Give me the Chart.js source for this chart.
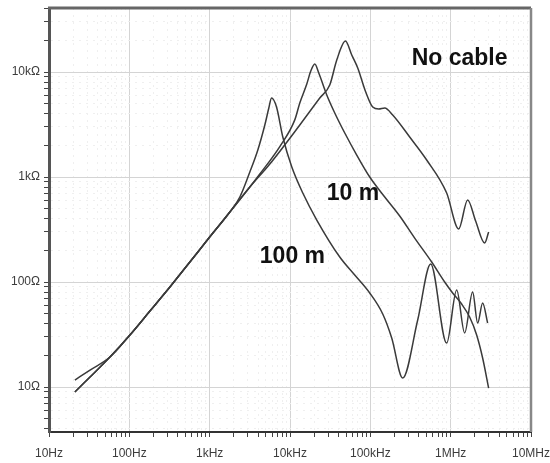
<!DOCTYPE html>
<html>
<head>
<meta charset="utf-8">
<script src="https://cdn.jsdelivr.net/npm/chart.js@4.4.0/dist/chart.umd.min.js"></script>
<style>
  html, body { margin: 0; padding: 0; background: #fff; }
  #wrap { width: 550px; height: 463px; }
</style>
</head>
<body>
<div id="wrap"><canvas id="impedanceChart" width="550" height="463"></canvas></div>
<script>
// axis ticks
const freqDecades = [10, 100, 1e3, 1e4, 1e5, 1e6, 1e7];
const freqLabels = ['10Hz', '100Hz', '1kHz', '10kHz', '100kHz', '1MHz', '10MHz'];
const ohmDecades = [10, 100, 1000, 10000];
const ohmLabels = ['10Ω', '100Ω', '1kΩ', '10kΩ'];
const ohmMin = 3.73;
const ohmMax = 40700;

// no cable
const noCableFreq = [21, 32.4, 57.4, 101.7, 180.4, 320, 567, 1000, 1783, 3162, 5608, 13240, 23480, 31260, 38200, 49000,
  58710, 69700, 87660, 107100, 127200, 151100, 189900, 309000, 503000, 891700, 1258000, 1627000, 2046000, 2648000, 2970000];
const noCableZ = [8.96, 12.45, 19.3, 31.3, 52.9, 89.6, 155, 268, 464, 803, 1330, 3128, 5655, 7518, 13010, 19740,
  14520, 10920, 6450, 4642, 4442, 4541, 3895, 2404, 1452, 704, 320, 604, 381, 235, 299];

// 10 m cable
const tenMFreq = [21, 32.4, 57.4, 101.7, 180.4, 320, 567, 1000, 1783, 3162, 4210, 7467, 11470, 13240, 16180, 18140, 20350,
  22820, 28690, 36070, 48050, 67720, 98290, 151100, 232100, 356600, 580300, 842100, 1059000, 1370000, 1723000, 2106000, 2500000, 2970000];
const tenMZ = [8.96, 12.45, 19.3, 31.3, 52.9, 89.6, 155, 268, 464, 803, 1068, 1950, 3500, 5069, 7685, 10220, 11920,
  9784, 6040, 4069, 2624, 1620, 1000, 645, 425, 262, 155, 100, 78.6, 61.7, 46.4, 31.3, 18.9, 9.78];

// 100 m cable
const hundredMFreq = [21, 32.4, 57.4, 101.7, 180.4, 320, 567, 1000, 1783, 2375, 3162, 3977, 4860, 5450, 5888, 6795, 8137,
  10530, 14430, 21540, 41630, 63970, 98290, 142700, 184600, 252900, 388700, 563900, 891700, 1188000, 1493000, 1877000, 2167000, 2500000, 2886000];
const hundredMZ = [11.66, 14.5, 19.3, 31.3, 52.9, 89.6, 155, 268, 464, 645, 1116, 1808, 3128, 4541, 5655, 4642, 2404,
  1245, 704, 389.5, 173, 116.6, 78.6, 49.6, 29.3, 12.18, 43.5, 148.4, 26.2, 83.9, 32.7, 80.3, 40.7, 63.1, 40.7];

// curve labels, anchored in data space (left edge, baseline)
const curveLabels = [
  { text: 'No cable', f: 327000, z: 11660 },
  { text: '10 m', f: 28700, z: 604 },
  { text: '100 m', f: 4210, z: 152 }
];

const toPoints = (fs, zs) => fs.map((f, i) => ({ x: f, y: zs[i] }));
const isDecade = (v) => Math.abs(Math.log10(v) - Math.round(Math.log10(v))) < 1e-9;

const logTicks = (lo, hi) => {
  const out = [];
  for (let d = Math.pow(10, Math.floor(Math.log10(lo))); d <= hi; d *= 10) {
    for (let m = 1; m <= 9; m++) {
      const v = Math.round(m * d * 1e6) / 1e6;
      if (v >= lo && v <= hi) out.push({ value: v, major: isDecade(v) });
    }
  }
  return out;
};

const gridColor = (ctx) => (ctx.tick && !isDecade(ctx.tick.value)) ? '#efefef' : '#d4d4d4';
const gridDash = (ctx) => (ctx.tick && !isDecade(ctx.tick.value)) ? [2, 5] : [];
const tickFont = { family: '"Liberation Sans", Arial, sans-serif', size: 12 };

const framePlugin = {
  id: 'frame',
  afterDraw(chart) {
    const { ctx, chartArea: a } = chart;
    ctx.save();
    ctx.strokeStyle = '#666';
    ctx.lineWidth = 3;
    ctx.beginPath();
    ctx.moveTo(a.left - 1, a.top);
    ctx.lineTo(a.right, a.top);
    ctx.stroke();
    ctx.strokeStyle = '#888';
    ctx.lineWidth = 2.5;
    ctx.beginPath();
    ctx.moveTo(a.right, a.top);
    ctx.lineTo(a.right, a.bottom);
    ctx.stroke();
    ctx.restore();
  }
};

const labelPlugin = {
  id: 'curveLabels',
  afterDatasetsDraw(chart) {
    const { ctx, scales } = chart;
    ctx.save();
    ctx.fillStyle = '#111';
    ctx.font = 'bold 23px "Liberation Sans", Arial, sans-serif';
    ctx.textBaseline = 'alphabetic';
    ctx.textAlign = 'left';
    curveLabels.forEach((l) => {
      ctx.fillText(l.text, scales.x.getPixelForValue(l.f), scales.y.getPixelForValue(l.z));
    });
    ctx.restore();
  }
};

const initImpedanceChart = () => {
  const canvas = document.getElementById('impedanceChart');
  const ctx = canvas.getContext('2d');
  new Chart(ctx, {
    type: 'line',
    data: {
      datasets: [
        { label: 'No cable', data: toPoints(noCableFreq, noCableZ) },
        { label: '10 m', data: toPoints(tenMFreq, tenMZ) },
        { label: '100 m', data: toPoints(hundredMFreq, hundredMZ) }
      ]
    },
    options: {
      responsive: false,
      animation: false,
      layout: { padding: { top: 8, right: 19, left: 0, bottom: 0 } },
      elements: {
        point: { radius: 0 },
        line: { borderColor: '#3a3a3a', borderWidth: 1.5, cubicInterpolationMode: 'monotone', fill: false }
      },
      plugins: { legend: { display: false }, tooltip: { enabled: false } },
      scales: {
        x: {
          type: 'logarithmic',
          min: 10,
          max: 1e7,
          afterBuildTicks: (scale) => { scale.ticks = logTicks(10, 1e7); },
          afterFit: (scale) => {
            scale.height = 31;
            scale.paddingLeft = 0;
            scale.paddingRight = 0;
          },
          ticks: {
            autoSkip: false,
            maxRotation: 0,
            padding: 9,
            color: '#3c3c3c',
            font: tickFont,
            callback: (v) => {
              const i = freqDecades.indexOf(v);
              return i >= 0 ? freqLabels[i] : '';
            }
          },
          grid: { color: gridColor, tickColor: '#444', tickLength: 5 },
          border: { display: true, color: '#333', width: 2, dash: gridDash }
        },
        y: {
          type: 'logarithmic',
          min: ohmMin,
          max: ohmMax,
          afterBuildTicks: (scale) => { scale.ticks = logTicks(ohmMin, ohmMax); },
          afterFit: (scale) => {
            scale.width = 49;
            scale.paddingTop = 0;
            scale.paddingBottom = 0;
          },
          ticks: {
            autoSkip: false,
            padding: 4,
            color: '#3c3c3c',
            font: tickFont,
            callback: (v) => {
              const i = ohmDecades.indexOf(v);
              return i >= 0 ? ohmLabels[i] : '';
            }
          },
          grid: { color: gridColor, tickColor: '#444', tickLength: 5 },
          border: { display: true, color: '#555', width: 3, dash: gridDash }
        }
      }
    },
    plugins: [framePlugin, labelPlugin]
  });
};

initImpedanceChart();
</script>
</body>
</html>
